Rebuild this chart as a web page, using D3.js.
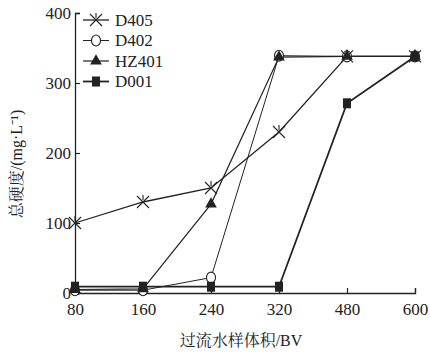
<!DOCTYPE html>
<html>
<head>
<meta charset="utf-8">
<script src="https://cdn.jsdelivr.net/npm/d3@7"></script>
<style>
  body { margin: 0; background: #fff; }
  text { font-family: "Liberation Serif", "Noto Serif CJK SC", serif; fill: #222; }
</style>
</head>
<body>
<div id="chart"></div>
<script>
// data
const volumes = ['80', '160', '240', '320', '480', '600'];
const d405 = [100, 130, 150, 230, 338, 338];
const d402 = [4, 4, 22, 339, 338, 338];
const hz401 = [5, 6, 127, 337, 338, 338];
const d001 = [9, 9, 9, 9, 271, 338];
const yTicks = [0, 100, 200, 300, 400];

const series = [
  { name: 'D405', values: d405, marker: 'x', width: 1.3 },
  { name: 'D402', values: d402, marker: 'circle', width: 1 },
  { name: 'HZ401', values: hz401, marker: 'triangle', width: 1.2 },
  { name: 'D001', values: d001, marker: 'square', width: 1.8 }
];

const width = 430, height = 355;
const ink = '#222';

const svg = d3.select('#chart').append('svg')
  .attr('width', width)
  .attr('height', height);

const x = d3.scalePoint().domain(volumes).range([75, 415]);
const y = d3.scaleLinear().domain([0, 400]).range([293, 13]);

// axes (ticks point inward)
const xAxis = svg.append('g')
  .attr('transform', `translate(0,${y(0)})`)
  .call(d3.axisBottom(x).tickSize(-5).tickPadding(9));
const yAxis = svg.append('g')
  .attr('transform', `translate(${x('80')},0)`)
  .call(d3.axisLeft(y).tickValues(yTicks).tickSize(-5).tickPadding(4));

[xAxis, yAxis].forEach(g => {
  g.select('.domain').attr('stroke', ink).attr('stroke-width', 1.3);
  g.selectAll('.tick line').attr('stroke', ink).attr('stroke-width', 1.2);
  g.selectAll('.tick text').style('font-size', '17px').attr('fill', ink)
    .style('font-family', '"Liberation Serif", serif');
});
xAxis.selectAll('.tick text').attr('dy', '0.75em');

// axis titles
svg.append('text')
  .attr('x', 241)
  .attr('y', 346)
  .attr('text-anchor', 'middle')
  .style('font-size', '16px')
  .text('过流水样体积/BV');

svg.append('text')
  .attr('transform', 'translate(22,164) rotate(-90)')
  .attr('text-anchor', 'middle')
  .style('font-size', '16px')
  .text('总硬度/(mg·L⁻¹)');

// marker drawing
function drawMarker(g, type, cx, cy) {
  if (type === 'x') {
    g.append('path')
      .attr('d', `M${cx - 6},${cy - 6}L${cx + 6},${cy + 6}M${cx - 6},${cy + 6}L${cx + 6},${cy - 6}M${cx},${cy - 7}L${cx},${cy - 2}`)
      .attr('stroke', ink).attr('stroke-width', 1.1).attr('fill', 'none');
  } else if (type === 'circle') {
    g.append('ellipse')
      .attr('cx', cx).attr('cy', cy).attr('rx', 4.5).attr('ry', 5.5)
      .attr('fill', '#fff').attr('stroke', ink).attr('stroke-width', 1.1);
  } else if (type === 'triangle') {
    g.append('path')
      .attr('d', d3.symbol().type(d3.symbolTriangle).size(60)())
      .attr('transform', `translate(${cx},${cy})`)
      .attr('fill', ink);
  } else {
    g.append('rect')
      .attr('x', cx - 4).attr('y', cy - 5).attr('width', 8).attr('height', 10)
      .attr('fill', ink);
  }
}

const line = d3.line()
  .x((d, i) => x(volumes[i]))
  .y(d => y(d));

series.forEach(s => {
  svg.append('path')
    .datum(s.values)
    .attr('d', line)
    .attr('fill', 'none')
    .attr('stroke', ink)
    .attr('stroke-width', s.width);
});

// markers drawn after lines; open circles under the filled ones
const order = [series[1], series[0], series[2], series[3]];
order.forEach(s => {
  const g = svg.append('g');
  s.values.forEach((v, i) => drawMarker(g, s.marker, x(volumes[i]), y(v)));
});

// legend
const legend = svg.selectAll('.legend')
  .data(series)
  .enter()
  .append('g')
  .attr('class', 'legend')
  .attr('transform', (d, i) => `translate(83,${20 + i * 20.5})`);

legend.append('line')
  .attr('x1', 0).attr('x2', 26)
  .attr('stroke', ink)
  .attr('stroke-width', d => d.width);

legend.each(function (d) {
  drawMarker(d3.select(this), d.marker, 13, 0);
});

legend.append('text')
  .attr('x', 32)
  .attr('y', 0)
  .attr('dy', '0.35em')
  .style('font-size', '17px')
  .text(d => d.name);
</script>
</body>
</html>
